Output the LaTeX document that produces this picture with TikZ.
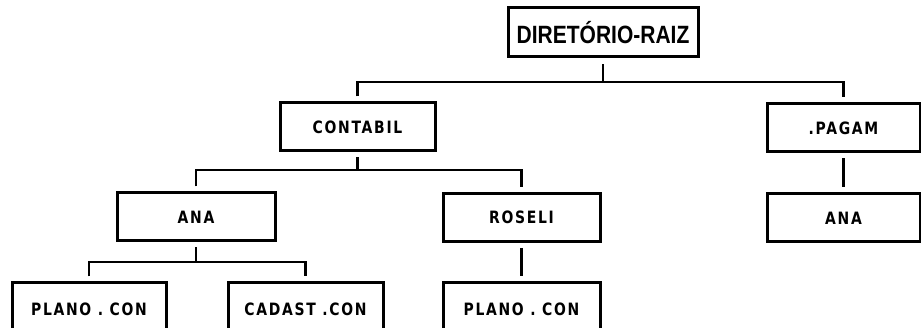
\documentclass[tikz,border=0pt]{standalone}
\usepackage{fontspec}
\usetikzlibrary{calc}
\newfontfamily\lblfont[LetterSpace=10,FakeStretch=0.82]{DejaVu Sans}
\newfontfamily\rootfont[FakeStretch=0.84]{Liberation Sans}
\tikzset{
  dirbox/.style={draw, line width=3pt, minimum width=155pt, minimum height=48pt,
    inner sep=0pt, font=\lblfont\bfseries\fontsize{17}{17}\selectfont},
  conn/.style={line width=2.4pt, line join=miter}
}
\begin{document}
\begin{tikzpicture}[x=1pt,y=-1pt]
\useasboundingbox (0,0) rectangle (921,328);
\clip (0,0) rectangle (921,328);
\node[dirbox, minimum width=190pt, minimum height=49pt,
  font=\rootfont\bfseries\fontsize{25}{25}\selectfont] (root) at (603,32.5) {DIRETÓRIO-RAIZ};
\node[dirbox] (contabil) at (357.5,127) {CONTABIL};
\node[dirbox, minimum width=153pt] (pagam) at (843.5,128) {.PAGAM};
\node[dirbox, minimum width=158pt] (ana) at (196,217) {ANA};
\node[dirbox, minimum width=157pt] (roseli) at (521.5,217.5) {ROSELI};
\node[dirbox, minimum width=153pt] (ana2) at (843.5,218) {ANA};
\node[dirbox, minimum width=154pt, minimum height=52pt] (plano1) at (89,309) {PLANO . CON};
\node[dirbox, minimum height=52pt] (cadast) at (305.5,309) {CADAST .CON};
\node[dirbox, minimum width=157pt, minimum height=52pt] (plano2) at (521.5,309) {PLANO . CON};
\coordinate (b1) at (0,82);
\coordinate (b2) at (0,170);
\coordinate (b3) at (0,262);
\draw[conn] ($(root.south)+(0,6)$) -- (root.south |- b1);
\draw[conn] ($(contabil.north)+(0,-5)$) -- (contabil.north |- b1) -- (pagam.north |- b1) -- ($(pagam.north)+(0,-5)$);
\draw[conn] ($(contabil.south)+(0,5)$) -- (contabil.south |- b2);
\draw[conn] ($(ana.north)+(0,-5)$) -- (ana.north |- b2) -- (roseli.north |- b2) -- ($(roseli.north)+(0,-5)$);
\draw[conn] ($(ana.south)+(0,5)$) -- (ana.south |- b3);
\draw[conn] ($(plano1.north)+(0,-5)$) -- (plano1.north |- b3) -- (cadast.north |- b3) -- ($(cadast.north)+(0,-5)$);
\draw[conn] ($(roseli.south)+(0,5)$) -- ($(plano2.north)+(0,-5)$);
\draw[conn] ($(pagam.south)+(0,5)$) -- ($(ana2.north)+(0,-5)$);
\end{tikzpicture}
\end{document}
